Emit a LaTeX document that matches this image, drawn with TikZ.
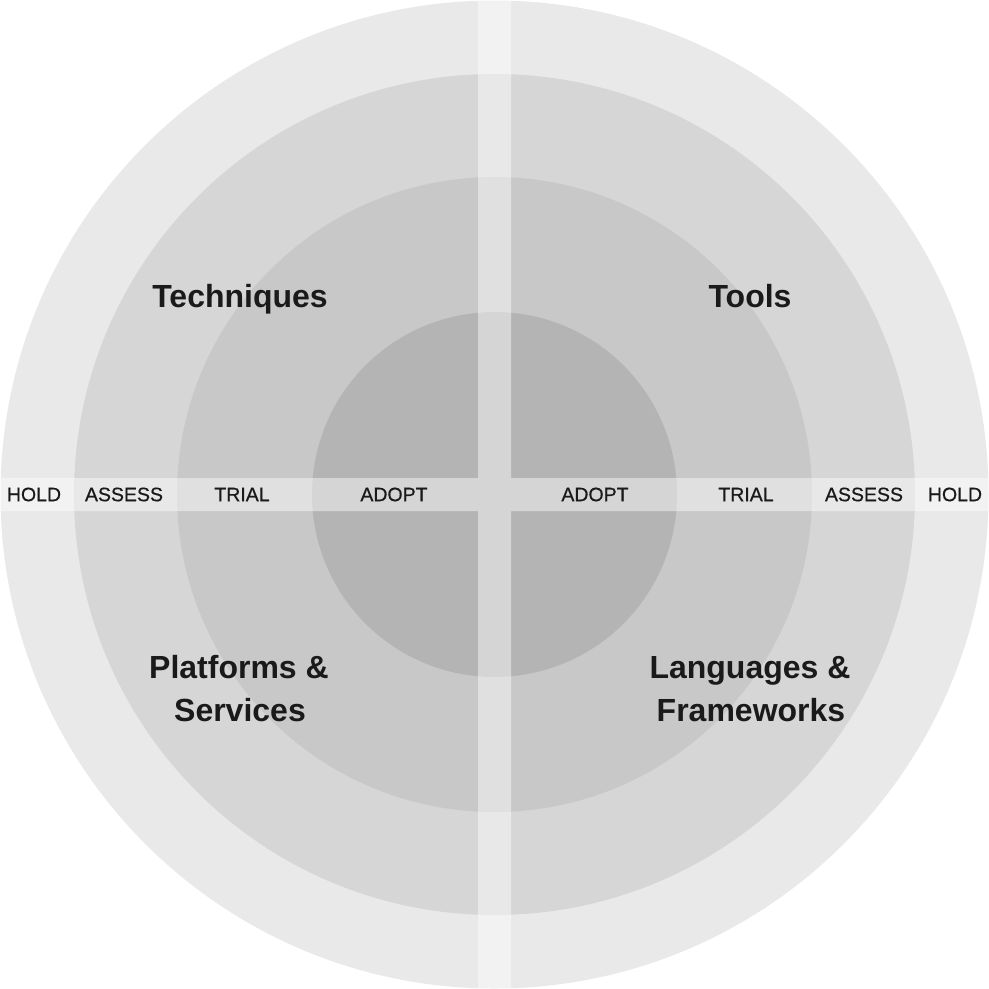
\documentclass[tikz,border=0pt]{standalone}
\usepackage{fontspec}
\setmainfont{Liberation Sans}
\newfontfamily\medfont[FakeBold=0.6]{Liberation Sans}
\definecolor{ringhold}{HTML}{E9E9E9}
\definecolor{ringassess}{HTML}{D6D6D6}
\definecolor{ringtrial}{HTML}{C8C8C8}
\definecolor{ringadopt}{HTML}{B4B4B4}
\definecolor{txt}{HTML}{1A1A1A}
\begin{document}
\begin{tikzpicture}[x=1pt,y=-1pt,
  ringlbl/.style={text=txt, font=\medfont\fontsize{19.5}{22}\selectfont, inner sep=0pt, anchor=center},
  quadlbl/.style={text=txt, font=\fontsize{32}{36}\selectfont\bfseries, inner sep=0pt, anchor=base}]
\useasboundingbox (0,0) rectangle (989,989);
\fill[white] (0,0) rectangle (989,989);
\coordinate (c) at (494.5,494.5);
% rings
\fill[ringhold]   (c) circle[radius=494pt];
\fill[ringassess] (c) circle[radius=420.5pt];
\fill[ringtrial]  (c) circle[radius=317.5pt];
\fill[ringadopt]  (c) circle[radius=182.5pt];
% cross bands (one path so the overlap is lightened once)
\fill[white, fill opacity=0.45] (478,0) rectangle (511,989) (0,478) rectangle (989,511);
% ring labels
\node[ringlbl] (holdL)   at (34,494.5)  {HOLD};
\node[ringlbl] (assessL) at (124,494.5) {ASSESS};
\node[ringlbl] (trialL)  at (242,494.5) {TRIAL};
\node[ringlbl] (adoptL)  at (394,494.5) {ADOPT};
\node[ringlbl] (adoptR)  at (595,494.5) {ADOPT};
\node[ringlbl] (trialR)  at (746,494.5) {TRIAL};
\node[ringlbl] (assessR) at (864,494.5) {ASSESS};
\node[ringlbl] (holdR)   at (955,494.5) {HOLD};
% quadrant labels
\node[quadlbl] (tech)   at (240,307) {Techniques};
\node[quadlbl] (tools)  at (750,307) {Tools};
\node[quadlbl] (plat1)  at (239,678) {Platforms \&};
\node[quadlbl] (plat2)  at (240,721) {Services};
\node[quadlbl] (lang1)  at (750,678) {Languages \&};
\node[quadlbl] (lang2)  at (751,721) {Frameworks};
\end{tikzpicture}
\end{document}
